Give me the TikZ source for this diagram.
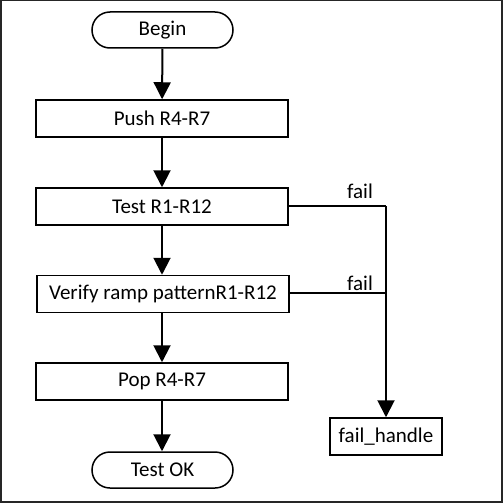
\documentclass[tikz,border=0pt]{standalone}
\usepackage{fontspec}
\setmainfont{Carlito}
\usetikzlibrary{arrows.meta,shapes.misc}
\begin{document}
\begin{tikzpicture}[x=1pt,y=-1pt,
  every node/.style={font=\fontsize{21}{24}\selectfont},
  procbox/.style={draw,line width=1.5pt,rectangle,minimum width=252pt,minimum height=37pt,inner sep=0pt},
  termbox/.style={draw,line width=1.5pt,rounded rectangle,minimum width=141pt,minimum height=36pt,inner sep=0pt},
  failbox/.style={draw,line width=1.5pt,rectangle,minimum width=112pt,minimum height=37pt,inner sep=0pt},
  flow/.style={line width=2pt,-{Triangle[length=17pt,width=17pt]}},
  failline/.style={line width=2pt},
  lbl/.style={inner sep=0pt}]
\useasboundingbox (0,0) rectangle (503,503);
\draw[line width=1.5pt,black!85] (0.75,0.75) rectangle (501.75,501.75);
\node[termbox] (begin) at (162.5,30) {Begin};
\node[procbox] (push) at (162,118.5) {Push R4-R7};
\node[procbox] (test) at (162,206.5) {Test R1-R12};
\node[procbox] (verify) at (163,294) {Verify ramp patternR1-R12};
\node[procbox] (pop) at (162,381.5) {Pop R4-R7};
\node[termbox] (ok) at (162.5,470) {Test OK};
\node[failbox] (fh) at (386,436.5) {fail\_handle};
\coordinate (c1) at (386,206);
\coordinate (c2) at (386,293);
\draw[flow] (begin) -- (push);
\draw[flow] (push) -- (test);
\draw[flow] (test) -- (test.south |- verify.north);
\draw[flow] (test.south |- verify.south) -- (test.south |- pop.north);
\draw[flow] (pop) -- (pop.south |- ok.north);
\draw[failline] (test.east |- c1) -- (c1);
\draw[failline] (verify.east |- c2) -- (c2);
\draw[flow] (c1) -- (fh);
\node[lbl] (f1) at (360,191) {fail};
\node[lbl] (f2) at (360,283) {fail};
\end{tikzpicture}
\end{document}
